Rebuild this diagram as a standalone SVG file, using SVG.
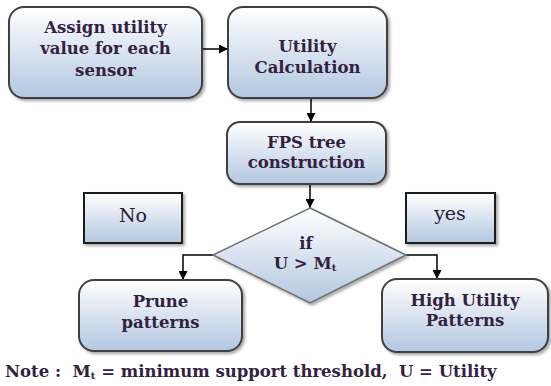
<svg xmlns="http://www.w3.org/2000/svg" width="551" height="386" viewBox="0 0 551 386">
<defs>
<linearGradient id="g" x1="0" y1="0" x2="0" y2="1">
<stop offset="0" stop-color="#ffffff"/>
<stop offset="1" stop-color="#b3c7e0"/>
</linearGradient>
<filter id="sh" x="-10%" y="-10%" width="130%" height="130%">
<feDropShadow dx="2" dy="2" stdDeviation="1.5" flood-color="#000" flood-opacity="0.35"/>
</filter>
<marker id="ah" viewBox="0 0 10 10" refX="10" refY="5" markerWidth="9" markerHeight="9" markerUnits="userSpaceOnUse" orient="auto">
<path d="M0,0 L10,5 L0,10 Z" fill="#000"/>
</marker>
<style>
.box{fill:url(#g);stroke:#404040;stroke-width:2;filter:url(#sh)}
.lbl{fill:url(#g);stroke:#1a1a1a;stroke-width:2;filter:url(#sh)}
.dia{fill:url(#g);stroke:#6e7070;stroke-width:1.5;filter:url(#sh)}
text{font-family:'DejaVu Serif','Liberation Serif',serif}
.t{font-weight:bold;font-size:16.5px;fill:#33223f;text-anchor:middle}
.tl{font-size:19px;fill:#2a1c36;text-anchor:middle}
.note{font-weight:bold;font-size:16.5px;fill:#33223f}
.c{fill:none;stroke:#000;stroke-width:1.5;marker-end:url(#ah)}
</style>
</defs>
<g id="connectors">
<path class="c" d="M202,49 H228"/>
<path class="c" d="M311,98 V122"/>
<path class="c" d="M310,184 V208"/>
<path class="c" d="M213,255 H183 V280"/>
<path class="c" d="M406,255 H437 V279"/>
</g>
<g id="assign">
<rect class="box" x="9" y="7" width="193" height="91" rx="15"/>
<text class="t" x="105.5" y="33">Assign utility</text>
<text class="t" x="105.5" y="54">value for each</text>
<text class="t" x="105.5" y="76">sensor</text>
</g>
<g id="utility">
<rect class="box" x="228" y="7" width="159" height="91" rx="15"/>
<text class="t" x="307.5" y="52">Utility</text>
<text class="t" x="307.5" y="73">Calculation</text>
</g>
<g id="fps">
<rect class="box" x="227" y="122" width="159" height="62" rx="13"/>
<text class="t" x="306.5" y="148">FPS tree</text>
<text class="t" x="306.5" y="168">construction</text>
</g>
<g id="decision">
<polygon class="dia" points="310,208 406,255 310,303 213,255"/>
<text class="t" x="306" y="249">if</text>
<text class="t" x="305" y="269">U &gt; M<tspan font-size="10" dy="2">t</tspan></text>
</g>
<g id="no">
<rect class="lbl" x="84" y="193" width="98" height="50"/>
<text class="tl" x="133" y="222">No</text>
</g>
<g id="yes">
<rect class="lbl" x="406" y="193" width="89" height="50"/>
<text class="tl" x="450" y="220">yes</text>
</g>
<g id="prune">
<rect class="box" x="79" y="280" width="163" height="71" rx="15"/>
<text class="t" x="160.5" y="307">Prune</text>
<text class="t" x="160.5" y="328">patterns</text>
</g>
<g id="high">
<rect class="box" x="382" y="279" width="166" height="73" rx="15"/>
<text class="t" x="465" y="306">High Utility</text>
<text class="t" x="465" y="326">Patterns</text>
</g>
<text class="note" x="5" y="377" xml:space="preserve">Note :  M<tspan font-size="10" dy="2">t</tspan><tspan dy="-2"> = minimum support threshold,  U = Utility</tspan></text>
</svg>
